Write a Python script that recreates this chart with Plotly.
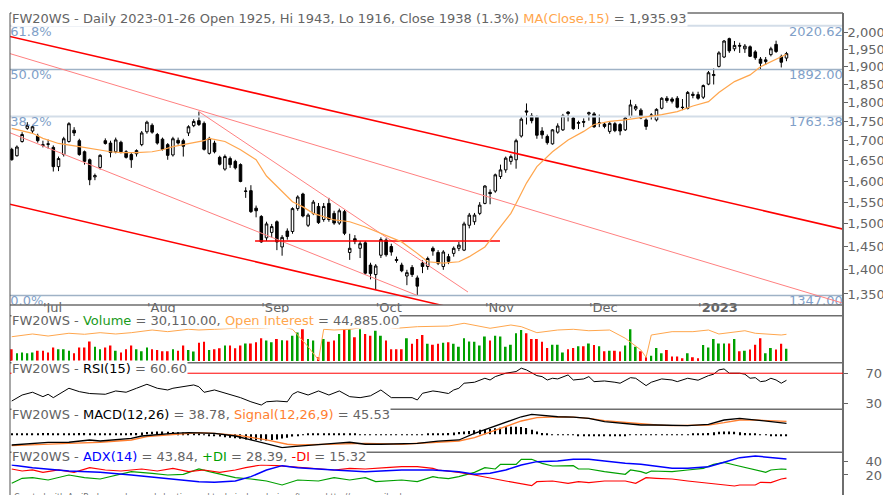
import plotly.graph_objects as go

# --- DATA ---
tick_idx = [6, 26, 48, 70, 91, 111, 132]
tick_lbl = ["'Jul", "'Aug", "'Sep", "'Oct", "'Nov", "'Dec", "'<b>2023</b>"]
price_ticks = [1350, 1400, 1450, 1500, 1550, 1600, 1650, 1700, 1750, 1800, 1850, 1900, 1950, 2000]

opens = [1678, 1662, 1698, 1732, 1725, 1712, 1690, 1692, 1683, 1635,
         1665, 1698, 1727, 1700, 1672, 1652, 1610, 1633, 1700, 1694,
         1672, 1696, 1672, 1665, 1667, 1690, 1723, 1740, 1716, 1704,
         1690, 1664, 1701, 1700, 1720, 1739, 1752, 1745, 1668, 1694,
         1658, 1629, 1655, 1648, 1640, 1575, 1577, 1536, 1517, 1469,
         1481, 1505, 1449, 1484, 1483, 1535, 1569, 1497, 1524, 1540,
         1510, 1547, 1524, 1502, 1528, 1437, 1467, 1446, 1458, 1410,
         1390, 1431, 1464, 1450, 1422, 1410, 1387, 1405, 1383, 1414,
         1407, 1446, 1437, 1407, 1428, 1435, 1446, 1442, 1497, 1505,
         1524, 1547, 1573, 1576, 1611, 1627, 1648, 1652, 1712, 1778,
         1765, 1762, 1725, 1711, 1692, 1722, 1728, 1775, 1759, 1745,
         1750, 1770, 1770, 1745, 1743, 1724, 1744, 1742, 1728, 1763,
         1783, 1780, 1754, 1765, 1754, 1785, 1812, 1810, 1812, 1788,
         1785, 1823, 1822, 1815, 1851, 1875, 1901, 1928, 1982, 1952,
         1962, 1952, 1958, 1943, 1922, 1915, 1935, 1965, 1929, 1925]
highs = [1682, 1688, 1722, 1748, 1740, 1718, 1700, 1703, 1688, 1660,
         1710, 1748, 1735, 1705, 1675, 1655, 1618, 1666, 1706, 1700,
         1708, 1700, 1676, 1670, 1678, 1725, 1752, 1745, 1720, 1708,
         1694, 1710, 1708, 1705, 1740, 1756, 1776, 1750, 1710, 1700,
         1662, 1665, 1660, 1652, 1643, 1585, 1590, 1542, 1520, 1505,
         1500, 1508, 1475, 1490, 1538, 1566, 1572, 1524, 1555, 1548,
         1548, 1560, 1530, 1535, 1532, 1478, 1475, 1462, 1462, 1415,
         1412, 1470, 1468, 1456, 1428, 1415, 1400, 1410, 1388, 1420,
         1428, 1450, 1442, 1442, 1434, 1450, 1460, 1505, 1525, 1525,
         1550, 1590, 1580, 1618, 1640, 1660, 1665, 1705, 1762, 1798,
         1772, 1766, 1735, 1716, 1730, 1745, 1770, 1777, 1763, 1752,
         1758, 1776, 1775, 1768, 1748, 1748, 1748, 1746, 1762, 1808,
         1796, 1785, 1758, 1772, 1785, 1815, 1818, 1815, 1818, 1810,
         1832, 1830, 1830, 1850, 1888, 1895, 1945, 1978, 1985, 1975,
         1970, 1966, 1962, 1948, 1928, 1928, 1958, 1976, 1935, 1943]
lows = [1650, 1660, 1695, 1728, 1718, 1695, 1683, 1680, 1623, 1624,
        1660, 1695, 1712, 1662, 1640, 1590, 1602, 1628, 1690, 1658,
        1668, 1668, 1655, 1632, 1660, 1686, 1718, 1718, 1690, 1675,
        1652, 1660, 1690, 1660, 1712, 1735, 1738, 1675, 1665, 1668,
        1638, 1625, 1632, 1628, 1597, 1560, 1525, 1515, 1458, 1462,
        1470, 1442, 1430, 1465, 1478, 1530, 1515, 1493, 1520, 1500,
        1505, 1505, 1498, 1498, 1475, 1421, 1455, 1425, 1390, 1380,
        1358, 1425, 1428, 1430, 1415, 1395, 1368, 1385, 1347, 1393,
        1400, 1430, 1410, 1400, 1412, 1428, 1440, 1440, 1490, 1498,
        1520, 1545, 1545, 1572, 1605, 1620, 1640, 1630, 1708, 1742,
        1745, 1705, 1705, 1690, 1690, 1718, 1725, 1750, 1728, 1730,
        1735, 1752, 1733, 1735, 1732, 1718, 1722, 1714, 1725, 1760,
        1778, 1756, 1728, 1755, 1750, 1782, 1800, 1798, 1785, 1780,
        1782, 1812, 1808, 1810, 1848, 1850, 1898, 1925, 1940, 1945,
        1940, 1940, 1928, 1920, 1892, 1905, 1930, 1940, 1898, 1916]
closes = [1652, 1684, 1716, 1740, 1736, 1700, 1688, 1691, 1635, 1655,
          1705, 1744, 1720, 1665, 1648, 1603, 1613, 1663, 1693, 1670,
          1702, 1672, 1658, 1652, 1675, 1720, 1748, 1722, 1694, 1678,
          1663, 1705, 1694, 1686, 1736, 1750, 1742, 1678, 1706, 1672,
          1641, 1660, 1640, 1632, 1599, 1576, 1528, 1530, 1460, 1500,
          1494, 1460, 1470, 1472, 1535, 1562, 1518, 1520, 1550, 1503,
          1540, 1510, 1502, 1530, 1479, 1446, 1461, 1456, 1393, 1392,
          1408, 1465, 1432, 1438, 1420, 1398, 1394, 1390, 1366, 1407,
          1424, 1440, 1414, 1438, 1418, 1446, 1453, 1500, 1520, 1520,
          1543, 1588, 1570, 1615, 1627, 1656, 1660, 1700, 1756, 1775,
          1752, 1714, 1715, 1695, 1728, 1738, 1765, 1771, 1731, 1747,
          1748, 1773, 1736, 1746, 1737, 1745, 1726, 1725, 1759, 1794,
          1790, 1759, 1737, 1767, 1782, 1812, 1806, 1804, 1788, 1787,
          1828, 1820, 1812, 1847, 1883, 1878, 1940, 1975, 1946, 1962,
          1960, 1960, 1930, 1926, 1910, 1920, 1952, 1944, 1913, 1938]

ma_x = [0, 4, 6, 9, 13, 15, 17, 19, 21, 24, 27, 29, 31, 34, 37, 38, 41, 44, 47, 49,
        52, 54, 56, 58, 62, 65, 68, 71, 75, 78, 80, 83, 86, 88, 91, 93, 96, 97, 99, 101,
        104, 107, 110, 112, 115, 118, 122, 125, 128, 131, 134, 136, 139, 142, 144, 147, 149]
ma_v = [1732, 1719, 1706, 1693, 1685, 1681, 1677, 1672, 1670, 1670, 1672, 1677, 1685, 1692, 1700, 1706, 1698, 1677, 1652, 1612,
        1574, 1551, 1539, 1524, 1509, 1505, 1493, 1479, 1460, 1435, 1417, 1414, 1417, 1428, 1449, 1479, 1524, 1547, 1595, 1635,
        1672, 1702, 1724, 1742, 1750, 1754, 1761, 1768, 1776, 1791, 1803, 1828, 1858, 1877, 1900, 1922, 1935.93]

fib_levels = [2020.62, 1892.00, 1763.38, 1347.00]
fib_names = ['61.8%', '50.0%', '38.2%', '0.0%']

# trend lines drawn on the chart: (bar index, price)
tl_top_x, tl_top_y = [-1, 160], [1991, 1488]
tl_bot_x, tl_bot_y = [-1, 94], [1547, 1300]
tl_a_x, tl_a_y = [-1, 160], [1941, 1331]
tl_b_x, tl_b_y = [36, 87.75], [1776, 1354]
tl_c_x, tl_c_y = [-1, 78], [1724, 1347]
hl_x, hl_y = [46.8, 93.9], [1462, 1462]

vols = [29000, 19000, 21000, 19000, 21000, 25000, 25000, 21000, 33000, 29000,
        29000, 25000, 19000, 33000, 33000, 48000, 35000, 29000, 33000, 38000,
        25000, 21000, 29000, 38000, 29000, 24000, 33000, 29000, 27000, 24000,
        24000, 29000, 25000, 38000, 27000, 23000, 45000, 47000, 27000, 29000,
        31000, 38000, 38000, 31000, 38000, 43000, 43000, 46000, 56000, 50000,
        46000, 54000, 51000, 50000, 62000, 70000, 78000, 54000, 50000, 9000,
        54000, 47000, 50000, 66000, 78000, 78000, 58000, 78000, 66000, 62000,
        74000, 62000, 50000, 29000, 29000, 29000, 56000, 42000, 54000, 64000,
        42000, 40000, 42000, 45000, 46000, 42000, 35000, 56000, 48000, 47000,
        38000, 60000, 50000, 62000, 60000, 35000, 40000, 68000, 76000, 68000,
        54000, 54000, 47000, 32000, 40000, 40000, 21000, 29000, 32000, 36000,
        36000, 43000, 39000, 36000, 24000, 25000, 25000, 23000, 38000, 78000,
        35000, 24000, 9000, 13000, 32000, 19000, 27000, 11000, 11000, 7000,
        19000, 9000, 7000, 39000, 33000, 54000, 43000, 43000, 43000, 54000,
        24000, 25000, 28000, 40000, 56000, 19000, 32000, 28000, 42000, 30110]

oi_x = [0, 4, 7, 11, 14, 17, 20, 23, 27, 30, 34, 36, 39, 43, 46, 48, 52, 54, 57, 59,
        60, 62, 65, 68, 71, 74, 78, 81, 84, 87, 89, 92, 96, 98, 101, 105, 108, 111, 115, 118,
        121, 122, 123, 127, 131, 134, 136, 138, 141, 143, 146, 148, 149]
oi_v = [40800, 45400, 42000, 46600, 44900, 47600, 45400, 47600, 52100, 49300, 53300, 52100, 53300, 55000, 55000, 55000, 57700, 53300, 24000, 1700,
        53300, 52100, 53300, 56700, 57700, 55000, 57700, 58800, 58800, 63400, 60500, 55000, 60500, 57700, 47600, 52100, 53300, 50900, 52100, 38200,
        18500, 6200, 43700, 49300, 49300, 52100, 45400, 47600, 50900, 46600, 45400, 43700, 44885]

rsi_x = [0, 2, 4, 6, 7, 8, 11, 13, 15, 18, 20, 22, 24, 26, 28, 30, 31, 35, 36, 37,
         39, 41, 44, 46, 48, 49, 51, 53, 54, 55, 57, 59, 61, 63, 65, 67, 69, 71, 73, 77,
         78, 79, 81, 82, 84, 85, 86, 87, 89, 91, 92, 93, 94, 95, 97, 98, 99, 101, 102, 103,
         104, 105, 107, 108, 110, 111, 112, 114, 116, 117, 119, 120, 122, 123, 125, 127, 128, 130, 132, 134,
         135, 136, 137, 138, 140, 141, 142, 143, 144, 145, 146, 147, 148, 149]
rsi_v = [33, 41, 44.7, 38.8, 42, 37.5, 50, 45.5, 43, 42, 46.4, 44.7, 50, 55.3, 50, 47.7, 50, 54.4, 52, 44.6,
         47.7, 43.3, 37.5, 32, 27.7, 32, 33, 32, 42, 45.5, 41, 46.4, 41, 46.4, 38.8, 37.5, 40, 47.7, 37.5, 37.5,
         34.4, 43.3, 46.4, 45.5, 43, 47.7, 50, 56.7, 58, 63.3, 61, 65.5, 67.7, 70, 72.2, 76.7, 74.4, 66.8, 65.5, 61,
         63.3, 62.4, 67.7, 61, 62.4, 65.5, 58.8, 59.7, 58, 56.7, 64.1, 63.3, 53.5, 58, 62.4, 61, 58.8, 63.3, 60.7, 66.8,
         68.7, 74.4, 75.7, 70, 70, 68.7, 63.3, 64.1, 58.8, 59.7, 63.3, 61, 56.7, 60.60]

macd_x = [0, 4, 7, 11, 15, 17, 20, 23, 25, 28, 31, 34, 36, 39, 43, 46, 49, 52, 54, 59,
          62, 65, 68, 71, 75, 78, 82, 86, 89, 92, 95, 98, 100, 102, 105, 108, 111, 114, 118, 121,
          124, 127, 130, 134, 137, 140, 143, 146, 149]
macd_v = [-37.8, -31.8, -28.3, -28, -20, -23.6, -20, -14, -6, 0, 3.5, 5.9, 5.9, 3.5, -6, -20, -35, -47, -43.6, -35,
          -31.8, -28, -35, -35, -31.8, -31.8, -24, -20, 3.5, 23.3, 44.5, 62, 70.6, 68, 62, 61, 56.5, 44.5, 38.8, 32.8,
          32.8, 30.4, 30.4, 35.3, 50.5, 56.5, 50.5, 44.5, 38.78]
sig_x = [0, 4, 11, 17, 23, 26, 31, 36, 39, 44, 49, 53, 55, 62, 68, 75, 81, 83, 86, 89,
         92, 95, 98, 101, 105, 108, 111, 114, 118, 121, 124, 127, 130, 134, 137, 140, 143, 146, 149]
sig_v = [-40, -37.8, -31.8, -28, -20, -8.5, 0, 5.9, 3.5, -5, -20, -35, -37.8, -35, -31.8, -35, -28, -26, -23.6, -12,
         8, 26.8, 47, 58.6, 62, 61, 56.5, 48, 41, 36.4, 32.8, 30.4, 30.4, 32.8, 41, 50.5, 50.5, 48, 45.53]
hist = [3, 3, 4, 4, 4, 4, 5, 5, 4, 4, 4, 4, 4, 5, 5, 4, 4, 3, 3, 3, 4, 4, 4, 5, 5,
        6, 8, 9, 10, 10, 9, 8, 7, 6, 5, 3, 2,
        -2, -4, -6, -8, -10, -12, -14, -16, -18, -20,
        -21, -22, -22, -20, -18, -15, -12, -8, -5, -3,
        2, 3, 3, 3, 3, 3, 2, 2, 3, 3,
        -2, -3, -3, -3, -3, -2, -3, -3, -3, -3,
        -3, -3, -2, 2, 3, 3, 4, 5, 6,
        8, 10, 12, 14, 16, 17, 19, 21, 23, 25,
        27, 27, 26, 22, 16, 10, 5, 2,
        -2, -3, -3, -3, -3, -4, -4, -4, -4, -4,
        -4, -4, -4, -4, -4, -3, -3, -3, -3, -3,
        -3, -3, -3, -3, -2, -2, -2, 2, 3, 3,
        5, 7, 9, 10, 10, 9, 7, 5, 3, 2,
        -2, -3, -4, -4, -5, -6.75]

adx_x = [0, 4, 11, 17, 23, 30, 36, 39, 43, 46, 49, 52, 55, 62, 68, 75, 81, 84, 86, 89,
         92, 95, 98, 101, 105, 108, 111, 114, 118, 121, 124, 127, 130, 134, 137, 140, 143, 146, 149]
adx_v = [35, 31, 26, 24, 20, 15, 10, 9, 11, 17.5, 27.5, 34, 31, 27.5, 25, 27.5, 27.5, 26, 25, 21,
         22.5, 27.5, 35, 40, 41, 43.5, 43.5, 41, 37.5, 36, 32.5, 30, 30, 32.5, 39, 46, 48.5, 46, 43.84]
pdi_x = [0, 2, 4, 7, 11, 14, 17, 20, 23, 27, 30, 33, 36, 38, 43, 46, 49, 52, 55, 59,
         62, 65, 68, 70, 75, 78, 81, 82, 84, 86, 89, 91, 93, 94, 97, 98, 100, 102, 104, 108,
         109, 111, 114, 118, 119, 121, 122, 123, 125, 127, 130, 133, 135, 137, 139, 142, 145, 146, 148, 149]
pdi_v = [7.5, 15, 16, 12.5, 20, 16, 14, 20, 25, 22.5, 20, 21, 29, 25, 16, 14, 11, 5, 12.5, 11,
         16, 12.5, 16, 10, 12.5, 10, 17.5, 16, 14.5, 17.5, 24, 31, 29, 36, 36, 43.5, 43.5, 37.5, 33.5, 34,
         29, 29, 25, 21, 27.5, 25, 22.5, 26, 25, 25, 27.5, 30, 36, 39, 35, 30, 24, 27.5, 29, 28.39]
mdi_x = [0, 2, 4, 6, 9, 12, 15, 18, 21, 25, 28, 31, 34, 37, 40, 43, 45, 48, 51, 54,
         57, 62, 65, 68, 72, 75, 78, 81, 82, 86, 89, 92, 95, 100, 101, 104, 107, 109, 111, 114,
         118, 120, 122, 124, 127, 130, 134, 137, 139, 140, 143, 144, 146, 148, 149]
mdi_v = [29, 26, 27.5, 24, 27.5, 24, 31, 27.5, 26, 29, 26, 30, 25, 27.5, 24, 27.5, 31, 35, 34, 32.5,
         30, 27.5, 30, 29, 31, 32.5, 32.5, 30, 27.5, 24, 20, 16, 11, 4, 10, 11, 7.5, 10, 8.5, 11,
         11, 7.5, 16, 15, 14, 11, 7.5, 5, 3.5, 5, 5, 9, 8.5, 14, 15.32]

# --- STYLE / LAYOUT ---
W, H = 883, 495
ML, MR, MT, MB = 10, 40, 13, 5
GRAY = '#646464'
FONT = 'DejaVu Sans'
MA_COL = '#ffa64d'
UP_COL, DN_COL = '#00a000', '#ff0000'
FIB_TXT = '#7f9fc8'


def py(px):
    """pixel row -> paper y"""
    return (H - MB - px) / (H - MT - MB)


dom_main = [py(305), 1]
dom_vol = [py(362.7), py(315.7)]
dom_rsi = [py(409.3), py(362.7)]
dom_macd = [py(452.3), py(409.3)]
dom_adx = [0, py(452.3)]
x_rng = [-0.33, 159.87]
bars = list(range(len(closes)))

fig = go.Figure()

# fibonacci levels
fib_cols = ['#d3dde8', '#9fb2c6', '#d3dde8', '#9fb2c6']
fib_w = [2, 1.5, 2, 1.5]
for lv, c, w in zip(fib_levels, fib_cols, fib_w):
    fig.add_trace(go.Scatter(x=x_rng, y=[lv, lv], mode='lines', line=dict(color=c, width=w),
                             xaxis='x', yaxis='y', hoverinfo='skip'))
fig.add_trace(go.Scatter(x=[x_rng[0] + 0.05] * 4, y=fib_levels, mode='text', text=fib_names,
                         textposition='bottom right', textfont=dict(color=FIB_TXT, size=13, family=FONT),
                         xaxis='x', yaxis='y', hoverinfo='skip'))
fig.add_trace(go.Scatter(x=[x_rng[1] - 0.05] * 4, y=fib_levels, mode='text',
                         text=[f'{v:.2f}' for v in fib_levels],
                         textposition='bottom left', textfont=dict(color=FIB_TXT, size=13, family=FONT),
                         xaxis='x', yaxis='y', hoverinfo='skip'))

# candles
fig.add_trace(go.Candlestick(
    x=bars, open=opens, high=highs, low=lows, close=closes,
    increasing=dict(line=dict(color='black', width=1), fillcolor='white'),
    decreasing=dict(line=dict(color='black', width=1), fillcolor='black'),
    whiskerwidth=0, xaxis='x', yaxis='y'))

# trend lines
for tx, ty, c, w in [(tl_top_x, tl_top_y, '#ff0000', 1.5), (tl_bot_x, tl_bot_y, '#ff0000', 1.5),
                     (tl_a_x, tl_a_y, '#ff8080', 1), (tl_b_x, tl_b_y, '#ff8080', 1),
                     (tl_c_x, tl_c_y, '#ff8080', 1), (hl_x, hl_y, '#ff0000', 1.5)]:
    fig.add_trace(go.Scatter(x=tx, y=ty, mode='lines', line=dict(color=c, width=w),
                             xaxis='x', yaxis='y', hoverinfo='skip'))

# moving average
fig.add_trace(go.Scatter(x=ma_x, y=ma_v, mode='lines', line=dict(color=MA_COL, width=1.2),
                         xaxis='x', yaxis='y'))

# volume + open interest
vol_cols = [UP_COL if c > o else DN_COL for o, c in zip(opens, closes)]
fig.add_trace(go.Bar(x=bars, y=vols, marker=dict(color=vol_cols, line=dict(width=0)), width=0.35,
                     xaxis='x2', yaxis='y2'))
fig.add_trace(go.Scatter(x=oi_x, y=oi_v, mode='lines', line=dict(color=MA_COL, width=1),
                         xaxis='x2', yaxis='y6'))

# RSI
fig.add_trace(go.Scatter(x=rsi_x, y=rsi_v, mode='lines', line=dict(color='black', width=1),
                         xaxis='x3', yaxis='y3'))

# MACD
fig.add_trace(go.Bar(x=bars, y=hist, marker=dict(color='black', line=dict(width=0)), width=0.22,
                     xaxis='x4', yaxis='y4'))
fig.add_trace(go.Scatter(x=sig_x, y=sig_v, mode='lines', line=dict(color='#ff7f30', width=1.3),
                         xaxis='x4', yaxis='y4'))
fig.add_trace(go.Scatter(x=macd_x, y=macd_v, mode='lines', line=dict(color='black', width=1.3),
                         xaxis='x4', yaxis='y4'))

# ADX
fig.add_trace(go.Scatter(x=pdi_x, y=pdi_v, mode='lines', line=dict(color=UP_COL, width=1.2),
                         xaxis='x5', yaxis='y5'))
fig.add_trace(go.Scatter(x=mdi_x, y=mdi_v, mode='lines', line=dict(color=DN_COL, width=1.2),
                         xaxis='x5', yaxis='y5'))
fig.add_trace(go.Scatter(x=adx_x, y=adx_v, mode='lines', line=dict(color='#0000ff', width=1.5),
                         xaxis='x5', yaxis='y5'))

tick_font = dict(family=FONT, size=13, color=GRAY)
hidden_x = dict(domain=[0, 1], matches='x', visible=False, automargin=False)
yax_common = dict(side='right', showgrid=False, zeroline=False, ticks='outside', ticklen=4,
                  tickcolor=GRAY, tickfont=tick_font, automargin=False)

fig.update_layout(
    width=W, height=H,
    margin=dict(l=ML, r=MR, t=MT, b=MB, autoexpand=False),
    paper_bgcolor='white', plot_bgcolor='white',
    font=dict(family=FONT, size=13, color=GRAY),
    showlegend=False, hovermode=False,
    xaxis=dict(domain=[0, 1], range=x_rng, anchor='y', tickmode='array', tickvals=tick_idx,
               ticktext=tick_lbl, showgrid=False, zeroline=False, showline=False, ticks='',
               tickfont=tick_font, ticklabelposition='outside right', ticklabelstandoff=-7,
               automargin=False, rangeslider=dict(visible=False)),
    xaxis2=dict(hidden_x, anchor='y2'),
    xaxis3=dict(hidden_x, anchor='y3'),
    xaxis4=dict(hidden_x, anchor='y4'),
    xaxis5=dict(hidden_x, anchor='y5'),
    yaxis=dict(yax_common, domain=dom_main, type='log', range=[3.12314, 3.31387], anchor='x',
               tickmode='array', tickvals=price_ticks, ticktext=[f'{v:,}' for v in price_ticks],
               ticklabelstandoff=-3),
    yaxis2=dict(domain=dom_vol, range=[-4165, 111000], visible=False, anchor='x2', automargin=False),
    yaxis6=dict(overlaying='y2', range=[-2858, 76150], visible=False, anchor='x2', automargin=False),
    yaxis3=dict(yax_common, domain=dom_rsi, range=[22, 84], anchor='x3', tickmode='array',
                tickvals=[30, 70], ticklabelstandoff=15),
    yaxis4=dict(domain=dom_macd, range=[-63.5, 88.3], visible=False, anchor='x4', automargin=False),
    yaxis5=dict(yax_common, domain=dom_adx, range=[-2.5, 54], anchor='x5', tickmode='array',
                tickvals=[20, 40], ticklabelstandoff=15),
)

# pane borders
SEP = '#6e6e6e'
shapes = []
for yy in [1, dom_main[0], dom_vol[1], dom_rsi[1], dom_macd[1], dom_adx[1]]:
    shapes.append(dict(type='line', xref='paper', yref='paper', x0=0, x1=1, y0=yy, y1=yy,
                       line=dict(color=SEP, width=1.5)))
shapes.append(dict(type='line', xref='paper', yref='paper', x0=0, x1=0, y0=py(H), y1=1,
                   line=dict(color='#505050', width=1)))
shapes.append(dict(type='line', xref='paper', yref='paper', x0=1, x1=1, y0=py(H), y1=1,
                   line=dict(color=SEP, width=2)))
shapes.append(dict(type='line', xref='paper', yref='y3', x0=0, x1=1, y0=70, y1=70,
                   line=dict(color='#ff0000', width=1)))
fig.update_layout(shapes=shapes)


def span(txt, col):
    return f'<span style="color:{col}">{txt}</span>'


pct = (closes[-1] - closes[-2]) / closes[-2] * 100
titles = [
    (dom_main[1], -5,
     f'FW20WS - Daily 2023-01-26 Open {opens[-1]}, Hi {highs[-1]}, Lo {lows[-1]}, Close {closes[-1]} ({pct:.1f}%) '
     + span('MA(Close,15)', MA_COL) + f' = {ma_v[-1]:,.2f}'),
    (dom_vol[1], -5,
     'FW20WS - ' + span('Volume', '#1a9a1a') + f' = {vols[-1]:,.2f}, '
     + span('Open Interest', MA_COL) + f' = {oi_v[-1]:,.2f}'),
    (dom_rsi[1], -5.5, 'FW20WS - ' + span('RSI(15)', 'black') + f' = {rsi_v[-1]:.2f}'),
    (dom_macd[1], -5.5,
     'FW20WS - ' + span('MACD(12,26)', 'black') + f' = {macd_v[-1]:.2f}, '
     + span('Signal(12,26,9)', '#ff7f30') + f' = {sig_v[-1]:.2f}'),
    (dom_adx[1], -4.5,
     'FW20WS - ' + span('ADX(14)', '#0000ff') + f' = {adx_v[-1]:.2f}, '
     + span('+DI', UP_COL) + f' = {pdi_v[-1]:.2f}, ' + span('-DI', DN_COL) + f' = {mdi_v[-1]:.2f}'),
]
for yy, ys, txt in titles:
    fig.add_annotation(xref='paper', yref='paper', x=0, y=yy, xanchor='left', yanchor='middle',
                       xshift=1, yshift=ys, text=txt, showarrow=False, bgcolor='white', borderpad=0,
                       font=dict(family=FONT, size=13, color=GRAY))

fig.add_annotation(xref='paper', yref='paper', x=0, y=0, xanchor='left', yanchor='top', xshift=2, yshift=-1,
                   text='Created with AmiBroker - advanced charting and technical analysis software. http://www.amibroker.com',
                   showarrow=False, font=dict(family=FONT, size=8, color='#707070'))

# page body has an 8px default margin; drop it so the figure sits at the window's corner
fig.write_html("out.html", config={'displayModeBar': False},
               post_script="document.body.style.margin='0';")
